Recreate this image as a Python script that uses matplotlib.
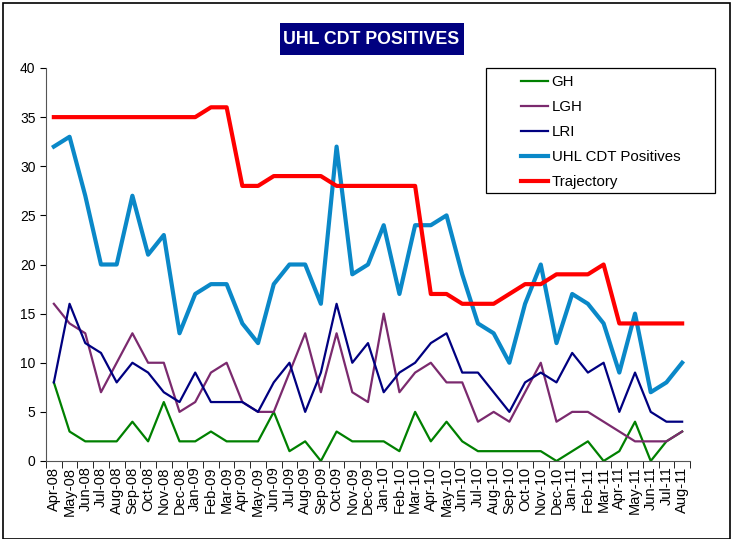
import numpy as np
import matplotlib
matplotlib.use("Agg")
import matplotlib.pyplot as plt
from matplotlib.patches import Rectangle

plt.rcParams['font.family'] = ['Liberation Sans', 'DejaVu Sans']

# Data
months = ['Apr-08', 'May-08', 'Jun-08', 'Jul-08', 'Aug-08', 'Sep-08', 'Oct-08', 'Nov-08',
          'Dec-08', 'Jan-09', 'Feb-09', 'Mar-09', 'Apr-09', 'May-09', 'Jun-09', 'Jul-09',
          'Aug-09', 'Sep-09', 'Oct-09', 'Nov-09', 'Dec-09', 'Jan-10', 'Feb-10', 'Mar-10',
          'Apr-10', 'May-10', 'Jun-10', 'Jul-10', 'Aug-10', 'Sep-10', 'Oct-10', 'Nov-10',
          'Dec-10', 'Jan-11', 'Feb-11', 'Mar-11', 'Apr-11', 'May-11', 'Jun-11', 'Jul-11',
          'Aug-11']
gh = [8, 3, 2, 2, 2, 4, 2, 6, 2, 2, 3, 2, 2, 2, 5, 1, 2, 0, 3, 2, 2, 2, 1, 5,
      2, 4, 2, 1, 1, 1, 1, 1, 0, 1, 2, 0, 1, 4, 0, 2, 3]
lgh = [16, 14, 13, 7, 10, 13, 10, 10, 5, 6, 9, 10, 6, 5, 5, 9, 13, 7, 13, 7, 6, 15, 7, 9,
       10, 8, 8, 4, 5, 4, 7, 10, 4, 5, 5, 4, 3, 2, 2, 2, 3]
lri = [8, 16, 12, 11, 8, 10, 9, 7, 6, 9, 6, 6, 6, 5, 8, 10, 5, 9, 16, 10, 12, 7, 9, 10,
       12, 13, 9, 9, 7, 5, 8, 9, 8, 11, 9, 10, 5, 9, 5, 4, 4]
uhl = [32, 33, 27, 20, 20, 27, 21, 23, 13, 17, 18, 18, 14, 12, 18, 20, 20, 16, 32, 19, 20, 24, 17, 24,
       24, 25, 19, 14, 13, 10, 16, 20, 12, 17, 16, 14, 9, 15, 7, 8, 10]
trajectory = [35, 35, 35, 35, 35, 35, 35, 35, 35, 35, 36, 36, 28, 28, 29, 29, 29, 29, 28, 28, 28, 28, 28, 28,
              17, 17, 16, 16, 16, 17, 18, 18, 19, 19, 19, 20, 14, 14, 14, 14, 14]

W, H = 734, 539
fig = plt.figure(figsize=(W/100, H/100), dpi=100)
ax = fig.add_axes([46/W, 1-461/H, 644/W, 393/H])

x = np.arange(len(months))
ax.plot(x, gh, color='#008000', lw=1.6, label='GH')
ax.plot(x, lgh, color='#7B2A6E', lw=1.6, label='LGH')
ax.plot(x, lri, color='#000080', lw=1.6, label='LRI')
ax.plot(x, uhl, color='#0A88C8', lw=3, label='UHL CDT Positives')
ax.plot(x, trajectory, color='#FF0000', lw=3, label='Trajectory')

ax.set_xlim(-0.5, len(months)-0.5)
ax.set_ylim(0, 40)
ax.set_yticks(range(0, 41, 5))
ax.tick_params(axis='y', labelsize=10, length=4, direction='out')
ax.set_xticks(x)
ax.set_xticklabels(months, rotation=90, fontsize=10.5)
ax.tick_params(axis='x', which='major', length=0, pad=4)
ax.set_xticks(np.arange(-0.5, len(months)), minor=True)
ax.tick_params(axis='x', which='minor', length=5, direction='out')
for s in ['top', 'right']:
    ax.spines[s].set_visible(False)
for s in ['left', 'bottom']:
    ax.spines[s].set_color('#555555')

# legend: entries without frame, box drawn separately
leg = ax.legend(loc='upper left', bbox_to_anchor=(521/W, 1-75/H), bbox_transform=fig.transFigure,
                fontsize=10.8, frameon=False, handlelength=1.8,
                handletextpad=0.25, labelspacing=0.74, borderpad=0, borderaxespad=0)
fig.patches.append(Rectangle((486/W, 1-193/H), 229/W, 125/H, transform=fig.transFigure,
                             fill=False, edgecolor='black', lw=0.9))

# title in a navy box
fig.patches.append(Rectangle((280/W, 1-55/H), 184/W, 32/H, transform=fig.transFigure,
                             facecolor='#000080', edgecolor='none'))
fig.text(371/W, 1-39/H, 'UHL CDT POSITIVES', ha='center', va='center', color='white',
         fontsize=12.8, fontweight='bold')

fig.patches.append(Rectangle((3/W, 0), 727/W, 1-3/H, transform=fig.transFigure,
                             fill=False, edgecolor='black', lw=1.2))

fig.savefig('out.png', dpi=100)
